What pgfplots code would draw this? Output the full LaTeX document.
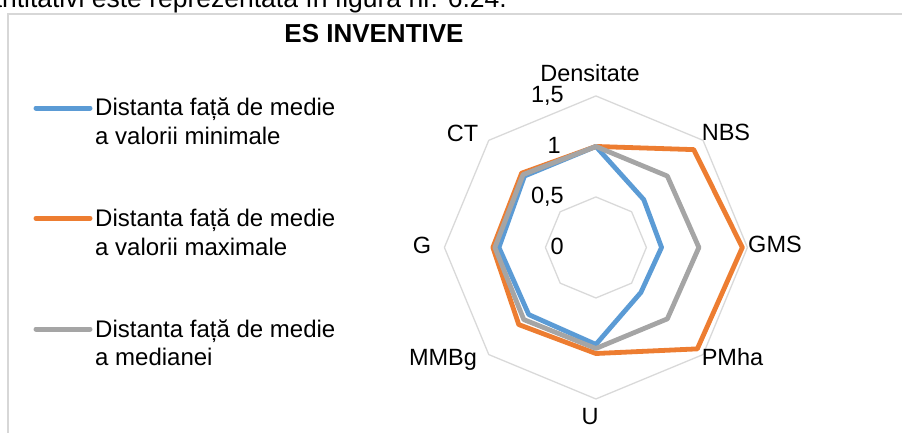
\documentclass[border=0pt]{standalone}
\usepackage{pgfplots}
\pgfplotsset{compat=1.18}
\usepackage{fontspec}
\setmainfont{Liberation Sans}
\definecolor{cblue}{RGB}{91,155,213}
\definecolor{corange}{RGB}{237,125,49}
\definecolor{cgray}{RGB}{165,165,165}
\definecolor{cgrid}{RGB}{217,217,217}
\definecolor{cframe}{RGB}{215,215,215}
\begin{document}
\begin{tikzpicture}[x=1pt,y=1pt]
\useasboundingbox (0,0) rectangle (902,-432);
\begin{scope}
\clip (0,0) rectangle (902,-432);
\draw[cframe, line width=1.3pt] (8,-14) rectangle (930,-460);
\node[anchor=base east, inner sep=0pt, font=\fontsize{26.5}{30}\selectfont] at (507,-7) {cantitativi este reprezentată în figura nr. 6.24.};
\end{scope}
% title
\node[anchor=base, inner sep=0pt, font=\fontsize{26}{30}\selectfont\bfseries] at (374,-42.7) {ES INVENTIVE};
% legend
\begin{scope}[line width=5pt, line cap=round]
\draw[cblue] (36,-108) -- (90,-108);
\draw[corange] (36,-218.3) -- (90,-218.3);
\draw[cgray] (36,-329) -- (90,-329);
\end{scope}
\begin{scope}[every node/.style={anchor=base west, inner sep=0pt, font=\fontsize{24}{29}\selectfont}]
\node at (95,-115.7) {Distanta față de medie};
\node at (95,-144) {a valorii minimale};
\node at (95,-226.7) {Distanta față de medie};
\node at (95,-255) {a valorii maximale};
\node at (95,-337.3) {Distanta față de medie};
\node at (95,-365) {a medianei};
\end{scope}
\begin{axis}[at={(590,-245)}, anchor=origin, x=101pt, y=101pt,
  hide axis, clip=false, data cs=polar,
  xmin=-1.6, xmax=1.6, ymin=-1.6, ymax=1.6,
  every axis plot/.append style={line join=round, line cap=round}]
% grid octagons
\addplot[cgrid, line width=1.3pt] coordinates {(90,0.5)(45,0.5)(0,0.5)(-45,0.5)(-90,0.5)(-135,0.5)(180,0.5)(135,0.5)(90,0.5)};
\addplot[cgrid, line width=1.3pt] coordinates {(90,1)(45,1)(0,1)(-45,1)(-90,1)(-135,1)(180,1)(135,1)(90,1)};
\addplot[cgrid, line width=1.3pt] coordinates {(90,1.5)(45,1.5)(0,1.5)(-45,1.5)(-90,1.5)(-135,1.5)(180,1.5)(135,1.5)(90,1.5)};
% minimum
\addplot[cblue, line width=4.8pt] coordinates {(90,1.0)(45,0.67)(0,0.65)(-45,0.63)(-90,0.96)(-135,0.94)(180,0.96)(135,1.0)(90,1.0)};
% maximum
\addplot[corange, line width=4.8pt] coordinates {(90,1.0)(45,1.37)(0,1.45)(-45,1.42)(-90,1.05)(-135,1.08)(180,1.02)(135,1.04)(90,1.0)};
% median
\addplot[cgray, line width=4.8pt] coordinates {(90,1.0)(45,1.0)(0,1.02)(-45,1.0)(-90,1.0)(-135,1.01)(180,1.0)(135,1.02)(90,1.0)};
\end{axis}
% category labels
\begin{scope}[every node/.style={anchor=base, inner sep=0pt, font=\fontsize{23.5}{28}\selectfont}]
\node at (590,-81) {Densitate};
\node at (726,-140.7) {NBS};
\node at (775,-252.7) {GMS};
\node at (732.5,-365) {PMha};
\node at (590,-424) {U};
\node at (443,-365) {MMBg};
\node at (422,-253.3) {G};
\node at (462.5,-141) {CT};
\end{scope}
% radial tick labels
\begin{scope}[every node/.style={anchor=base east, inner sep=0pt, font=\fontsize{23.5}{28}\selectfont}]
\node at (564,-102) {1,5};
\node at (561,-153) {1};
\node at (564,-203) {0,5};
\node at (564,-254) {0};
\end{scope}
\end{tikzpicture}
\end{document}
